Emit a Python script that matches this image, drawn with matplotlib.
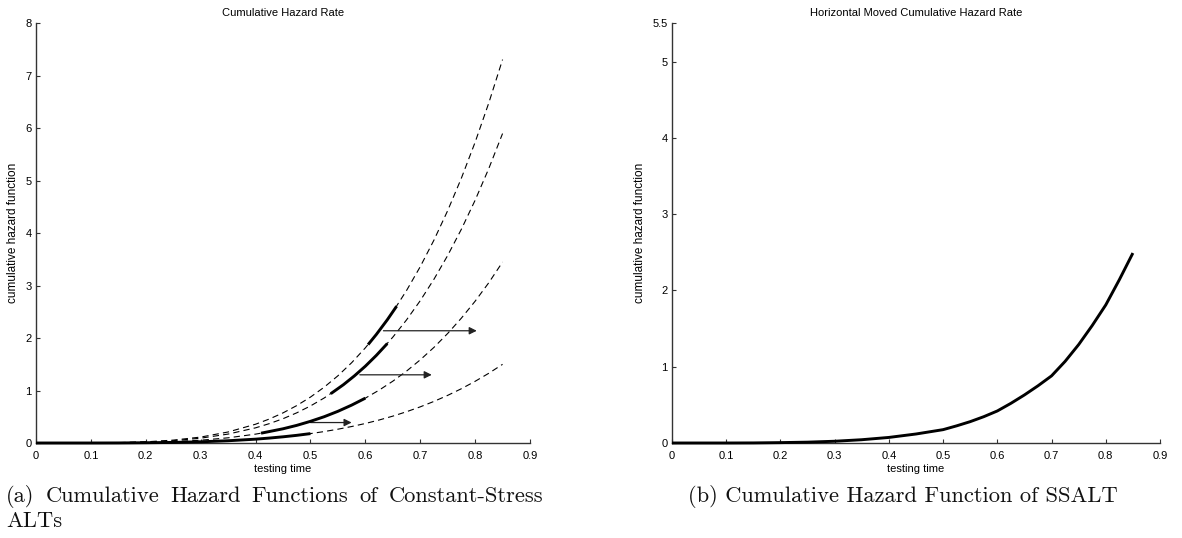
import matplotlib
matplotlib.use("Agg")
import matplotlib.pyplot as plt

# ---------------- data ----------------
t_grid = [0.0, 0.05, 0.10, 0.15, 0.20, 0.25, 0.30, 0.35, 0.40, 0.425, 0.45,
          0.475, 0.50, 0.525, 0.55, 0.575, 0.60, 0.625, 0.65, 0.675, 0.70,
          0.725, 0.75, 0.775, 0.80, 0.825, 0.85]
H_stress1 = [0, 0, 0, 0.001, 0.005, 0.011, 0.023, 0.043, 0.073, 0.094, 0.118,
             0.146, 0.179, 0.218, 0.263, 0.314, 0.372, 0.438, 0.512, 0.596, 0.689,
             0.793, 0.908, 1.035, 1.176, 1.330, 1.50]
H_stress2 = [0, 0, 0.001, 0.003, 0.011, 0.026, 0.053, 0.099, 0.169, 0.215, 0.271,
             0.336, 0.413, 0.501, 0.604, 0.722, 0.855, 1.007, 1.178, 1.370, 1.585,
             1.823, 2.088, 2.381, 2.703, 3.057, 3.45]
H_stress3 = [0, 0, 0.001, 0.006, 0.018, 0.044, 0.092, 0.170, 0.289, 0.369, 0.463,
             0.575, 0.706, 0.858, 1.034, 1.235, 1.464, 1.724, 2.017, 2.346, 2.713,
             3.122, 3.575, 4.076, 4.628, 5.235, 5.90]
H_stress4 = [0, 0, 0.001, 0.007, 0.022, 0.055, 0.113, 0.210, 0.358, 0.457, 0.574,
             0.713, 0.875, 1.064, 1.281, 1.530, 1.814, 2.136, 2.499, 2.906, 3.361,
             3.868, 4.430, 5.050, 5.734, 6.486, 7.31]

# solid (active) pieces of each constant-stress curve
seg1_t = [0.0, 0.05, 0.10, 0.15, 0.20, 0.25, 0.30, 0.35, 0.40, 0.425, 0.45, 0.475, 0.50]
seg1_H = [0, 0, 0, 0.001, 0.005, 0.011, 0.023, 0.043, 0.073, 0.094, 0.118, 0.146, 0.179]
seg2_t = [0.41, 0.45, 0.475, 0.50, 0.525, 0.55, 0.575, 0.60]
seg2_H = [0.187, 0.271, 0.336, 0.413, 0.501, 0.604, 0.722, 0.855]
seg3_t = [0.537, 0.56, 0.58, 0.60, 0.62, 0.64]
seg3_H = [0.94, 1.111, 1.279, 1.464, 1.670, 1.896]
seg4_t = [0.605, 0.62, 0.64, 0.657]
seg4_H = [1.876, 2.069, 2.349, 2.608]

# horizontal shift arrows: level, start time, end time
arrow_H = [0.39, 1.30, 2.14]
arrow_t0 = [0.50, 0.59, 0.633]
arrow_t1 = [0.575, 0.721, 0.803]

# step-stress (SSALT) cumulative hazard
ssalt_t = [0.0, 0.05, 0.10, 0.15, 0.20, 0.25, 0.30, 0.35, 0.40, 0.45, 0.50,
           0.525, 0.55, 0.575, 0.60, 0.625, 0.65, 0.675, 0.70, 0.725, 0.75,
           0.775, 0.80, 0.825, 0.85]
ssalt_H = [0, 0, 0, 0.001, 0.005, 0.011, 0.023, 0.043, 0.073, 0.118, 0.175,
           0.225, 0.28, 0.345, 0.42, 0.52, 0.63, 0.75, 0.88, 1.07, 1.29,
           1.54, 1.81, 2.14, 2.49]

x_ticks = [0, 0.1, 0.2, 0.3, 0.4, 0.5, 0.6, 0.7, 0.8, 0.9]
x_ticklabels = ["0", "0.1", "0.2", "0.3", "0.4", "0.5", "0.6", "0.7", "0.8", "0.9"]
yl_ticks = [0, 1, 2, 3, 4, 5, 6, 7, 8]
yr_ticks = [0, 1, 2, 3, 4, 5, 5.5]
yr_ticklabels = ["0", "1", "2", "3", "4", "5", "5.5"]

caption_a_line1 = ["(a)", "Cumulative", "Hazard", "Functions", "of", "Constant-Stress"]
caption_a_line2 = "ALTs"
caption_b = "(b) Cumulative Hazard Function of SSALT"

# ---------------- figure ----------------
plt.rcParams["font.family"] = ["Liberation Sans", "DejaVu Sans"]
plt.rcParams["lines.scale_dashes"] = False
W, Hpx = 1182, 538
fig = plt.figure(figsize=(W / 100, Hpx / 100), dpi=100)

def px_axes(x0, x1, ytop, ybot):
    return fig.add_axes([x0 / W, 1 - ybot / Hpx, (x1 - x0) / W, (ybot - ytop) / Hpx])

axL = px_axes(36, 530, 23.4, 443)
axR = px_axes(672, 1160, 23.4, 443)

spine_c = "#333333"
for ax in (axL, axR):
    ax.spines["top"].set_visible(False)
    ax.spines["right"].set_visible(False)
    for s in ("left", "bottom"):
        ax.spines[s].set_color(spine_c)
        ax.spines[s].set_linewidth(1.0)
    ax.tick_params(direction="in", length=3.2, width=0.8, color=spine_c,
                   labelsize=8, labelcolor="black")
    ax.tick_params(axis="x", pad=6)
    ax.tick_params(axis="y", pad=3)
    ax.set_xlim(0, 0.9)
    ax.set_xticks(x_ticks)
    ax.set_xticklabels(x_ticklabels)
    ax.set_xlabel("testing time", fontsize=8, labelpad=2)
    ax.set_ylabel("cumulative hazard function", fontsize=8.5, labelpad=5)

# ---- left panel ----
dash_kw = dict(color="black", lw=0.8, ls=(0, (4.5, 3.0)))
for H in (H_stress1, H_stress2, H_stress3, H_stress4):
    axL.plot(t_grid, H, **dash_kw)
solid_kw = dict(color="black", lw=2.1, solid_capstyle="butt", clip_on=False, zorder=5)
for st, sH in ((seg1_t, seg1_H), (seg2_t, seg2_H), (seg3_t, seg3_H), (seg4_t, seg4_H)):
    axL.plot(st, sH, **solid_kw)
for h, a, b in zip(arrow_H, arrow_t0, arrow_t1):
    axL.annotate("", xy=(b, h), xytext=(a, h),
                 arrowprops=dict(arrowstyle="-|>", color="#222222", lw=0.9,
                                 mutation_scale=11, shrinkA=0, shrinkB=0))
axL.set_ylim(0, 8)
axL.set_yticks(yl_ticks)
axL.set_title("Cumulative Hazard Rate", fontsize=8, pad=5)

# ---- right panel ----
axR.plot(ssalt_t, ssalt_H, color="black", lw=2.1, clip_on=False, zorder=5,
         solid_capstyle="butt")
axR.set_ylim(0, 5.5)
axR.set_yticks(yr_ticks)
axR.set_yticklabels(yr_ticklabels)
axR.set_title("Horizontal Moved Cumulative Hazard Rate", fontsize=8, pad=5)

# ---- captions (Computer-Modern-like serif), caption (a) justified ----
cap_kw = dict(fontsize=16.2, family="cmr10", va="center", color="#111111")
renderer = fig.canvas.get_renderer()
line_left, line_right = 6.0, 543.0
word_texts = [fig.text(0, 1 - 496 / Hpx, wtxt, ha="left", **cap_kw)
              for wtxt in caption_a_line1]
widths = [t.get_window_extent(renderer).width for t in word_texts]
gap = (line_right - line_left - sum(widths)) / (len(widths) - 1)
xpos = line_left
for t, wd in zip(word_texts, widths):
    t.set_x(xpos / W)
    xpos += wd + gap
fig.text(line_left / W, 1 - 521 / Hpx, caption_a_line2, ha="left", **cap_kw)
fig.text(903 / W, 1 - 497 / Hpx, caption_b, ha="center", **cap_kw)

fig.savefig("out.png", dpi=100)
